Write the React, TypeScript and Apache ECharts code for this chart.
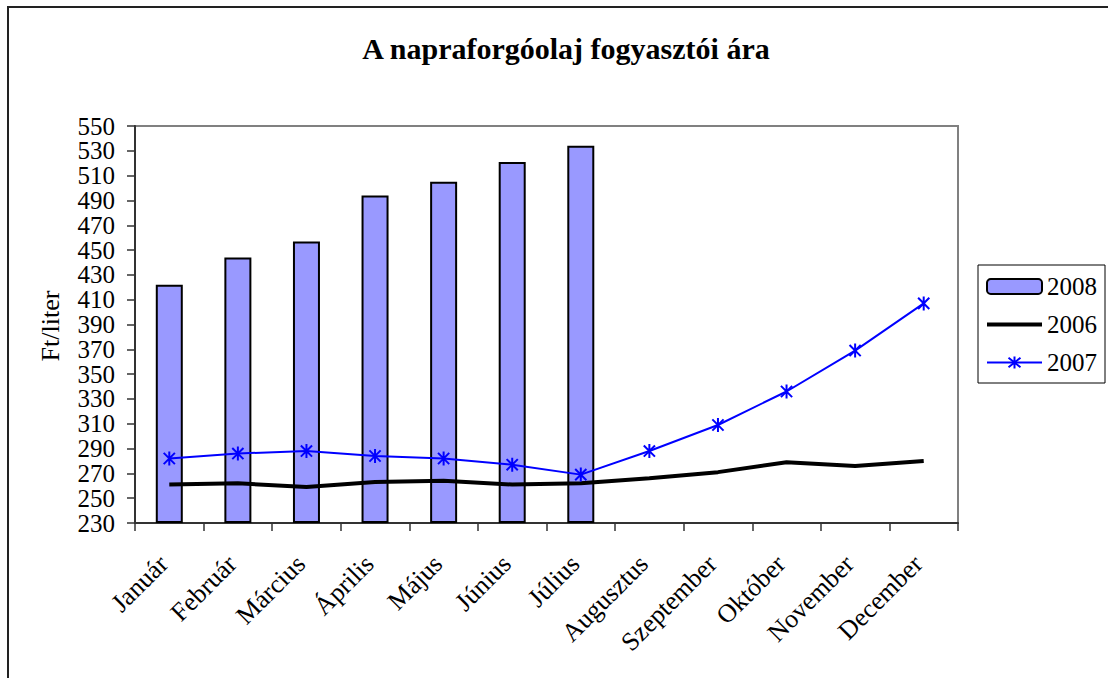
import React, { useEffect, useRef } from "react";
import * as echarts from "echarts";

const months = [
  "Január", "Február", "Március", "Április", "Május", "Június",
  "Július", "Augusztus", "Szeptember", "Október", "November", "December",
];
const s2008 = [422, 444, 457, 494, 505, 521, 534, null, null, null, null, null];
const s2006 = [261, 262, 259, 263, 264, 261, 262, 266, 271, 279, 276, 280];
const s2007 = [282, 286, 288, 284, 282, 277, 269, 288, 309, 336, 369, 407];
const yMin = 230;
const yMax = 550;
const yStep = 20;

const FONT = "'Liberation Serif', 'Times New Roman', serif";
const ASTERISK = "path://M1,1L9,9M9,1L1,9M5,0L5,10";

const shift = (arr: (number | null)[]) => arr.map((v) => (v == null ? null : v - yMin));

export default function App() {
  const ref = useRef<HTMLDivElement>(null);
  useEffect(() => {
    if (!ref.current) return;
    const chart = echarts.init(ref.current, null, { renderer: "svg" });
    chart.setOption({
      animation: false,
      backgroundColor: "#ffffff",
      title: {
        text: "A napraforgóolaj fogyasztói ára",
        left: 561,
        textAlign: "center",
        top: 28,
        textStyle: { fontFamily: FONT, fontSize: 30, fontWeight: "bold", color: "#000" },
      },
      graphic: [
        {
          type: "rect",
          shape: { x: 8, y: 7, width: 1200, height: 800 },
          style: { fill: "none", stroke: "#222", lineWidth: 2 },
          silent: true,
          z: 100,
        },
        {
          type: "text",
          x: 50,
          y: 326,
          rotation: Math.PI / 2,
          style: {
            text: "Ft/liter",
            fontFamily: FONT,
            fontSize: 26,
            fill: "#000",
            align: "center",
            verticalAlign: "middle",
          },
        },
      ],
      legend: {
        orient: "vertical",
        left: 978,
        top: 265,
        data: [
          "2008",
          { name: "2006", itemStyle: { opacity: 0 }, lineStyle: { width: 4, color: "#000" } },
          "2007",
        ],
        borderColor: "#000",
        borderWidth: 1,
        padding: [9, 8, 8, 7],
        itemWidth: 55,
        itemHeight: 15,
        itemGap: 13,
        textStyle: { fontFamily: FONT, fontSize: 25, lineHeight: 25, color: "#000" },
      },
      grid: {
        left: 135,
        top: 126,
        right: 150,
        bottom: 155,
        show: true,
        borderColor: "#808080",
        borderWidth: 2,
        backgroundColor: "transparent",
      },
      xAxis: {
        type: "category",
        data: months,
        boundaryGap: true,
        axisLine: { lineStyle: { color: "#333", width: 2 } },
        axisTick: { show: true, length: 8, lineStyle: { color: "#333", width: 1.5 } },
        axisLabel: {
          rotate: 45,
          interval: 0,
          margin: 31,
          padding: [0, 8, 0, 0],
          fontFamily: FONT,
          fontSize: 26,
          color: "#000",
        },
        splitLine: { show: false },
      },
      yAxis: {
        type: "value",
        min: 0,
        max: yMax - yMin,
        interval: yStep,
        axisLine: { show: true, lineStyle: { color: "#333", width: 2 } },
        axisTick: { show: true, length: 8, lineStyle: { color: "#333", width: 1.5 } },
        axisLabel: {
          margin: 20,
          fontFamily: FONT,
          fontSize: 25,
          color: "#000",
          formatter: (v: number) => String(v + yMin),
        },
        splitLine: { show: false },
      },
      series: [
        {
          name: "2008",
          type: "bar",
          data: shift(s2008),
          barWidth: 27,
          itemStyle: { color: "#9999FF", borderColor: "#000", borderWidth: 2 },
          z: 1,
        },
        {
          name: "2006",
          type: "line",
          data: shift(s2006),
          symbol: "none",
          showSymbol: false,
          lineStyle: { color: "#000", width: 4 },
          itemStyle: { color: "#000" },
          z: 3,
        },
        {
          name: "2007",
          type: "line",
          data: shift(s2007),
          symbol: ASTERISK,
          symbolSize: 14,
          symbolKeepAspect: true,
          lineStyle: { color: "#0000FF", width: 2 },
          itemStyle: { color: "#0000FF", borderColor: "#0000FF", borderWidth: 2 },
          z: 4,
        },
      ],
    });
    return () => chart.dispose();
  }, []);
  return (
    <div
      ref={ref}
      style={{ position: "fixed", left: 0, top: 0, width: 1108, height: 678 }}
    />
  );
}
